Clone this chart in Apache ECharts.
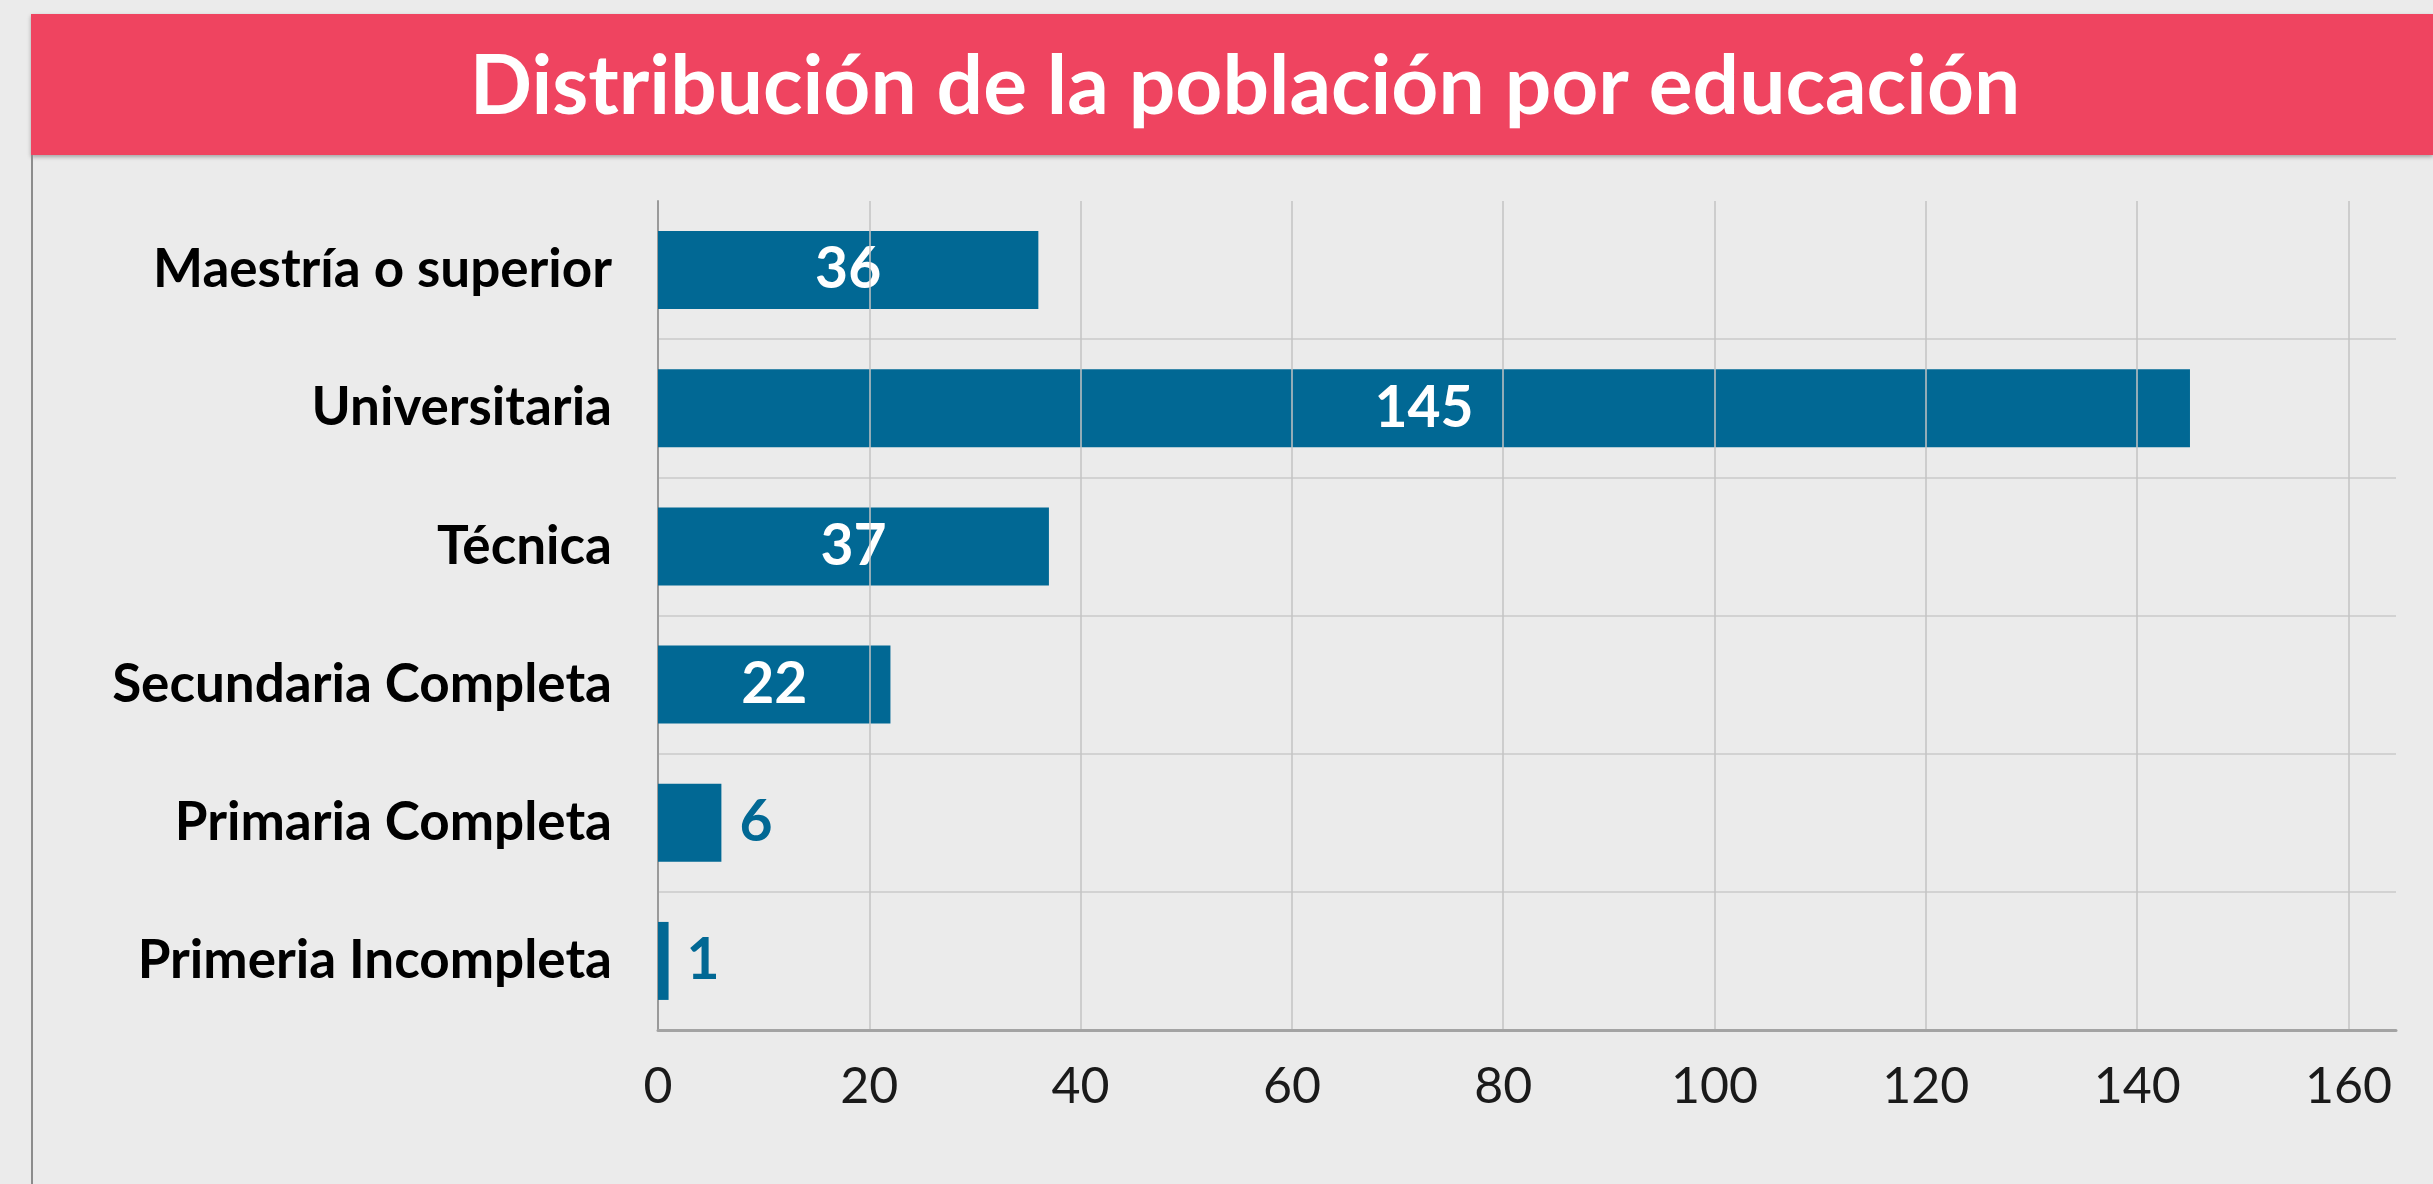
<!DOCTYPE html>
<html>
<head>
<meta charset="utf-8">
<script src="https://cdn.jsdelivr.net/npm/echarts@6/dist/echarts.min.js"></script>
<style>
  html, body { margin: 0; padding: 0; background: #ebebeb; }
  #chart { width: 2433px; height: 1184px; }
</style>
</head>
<body>
<div id="chart"></div>
<script>
// Distribución de la población por educación — horizontal bars, top to bottom.
const categories = [
    'Maestría o superior',
    'Universitaria',
    'Técnica',
    'Secundaria Completa',
    'Primaria Completa',
    'Primeria Incompleta'
];
const values = [36, 145, 37, 22, 6, 1];
const tickStep = 20;
const axisMax = 164.5;   // plot runs a little past the 160 tick

const BAR = '#016894';
const RED = '#ef4460';

// small bars get their label outside, in bar colour
const barData = values.map(v => ({
    value: v,
    label: v < 10
        ? { position: 'right', distance: 18, color: BAR }
        : { position: 'inside', color: '#ffffff' }
}));

const chart = echarts.init(document.getElementById('chart'));
chart.setOption({
    animation: false,
    backgroundColor: '#ebebeb',
    textStyle: { fontFamily: 'Lato' },
    graphic: [
        {
            type: 'rect',
            shape: { x: 31, y: 14, width: 2402, height: 141 },
            style: {
                fill: RED,
                shadowBlur: 4, shadowOffsetY: 2,
                shadowColor: 'rgba(0,0,0,0.3)'
            }
        },
        {
            type: 'line',
            shape: { x1: 32, y1: 155, x2: 32, y2: 1184 },
            style: { stroke: '#8c8c8c', lineWidth: 2 }
        },
        {
            type: 'text',
            x: 1245, y: 88,
            style: {
                text: 'Distribución de la población por educación',
                fill: '#ffffff',
                font: 'bold 82px Lato',
                textAlign: 'center',
                textVerticalAlign: 'middle'
            }
        }
    ],
    grid: { left: 658, right: 37, top: 201, bottom: 154 },
    xAxis: {
        type: 'value',
        min: 0,
        max: axisMax,
        interval: tickStep,
        z: 3,
        axisLine: { show: true, lineStyle: { color: '#a3a3a3', width: 3 } },
        axisTick: { show: false },
        axisLabel: {
            fontSize: 50, color: '#1a1a1a', margin: 32,
            showMaxLabel: false
        },
        splitLine: {
            show: true, showMinLine: false, showMaxLine: false,
            lineStyle: { color: 'rgba(195,195,195,0.75)', width: 2 }
        }
    },
    yAxis: {
        type: 'category',
        data: categories,
        inverse: true,
        offset: 6,
        axisLine: { show: true, lineStyle: { color: '#9a9a9a', width: 2 } },
        axisTick: { show: false },
        axisLabel: { fontSize: 53, fontWeight: 'bold', color: '#000000', margin: 40 },
        splitLine: {
            show: true, showMinLine: false,
            lineStyle: { color: '#d2d2d2', width: 2 }
        }
    },
    series: [{
        type: 'bar',
        data: barData,
        barWidth: 78,
        itemStyle: { color: BAR },
        label: { show: true, fontSize: 57, fontWeight: 'bold' }
    }]
});
</script>
</body>
</html>
